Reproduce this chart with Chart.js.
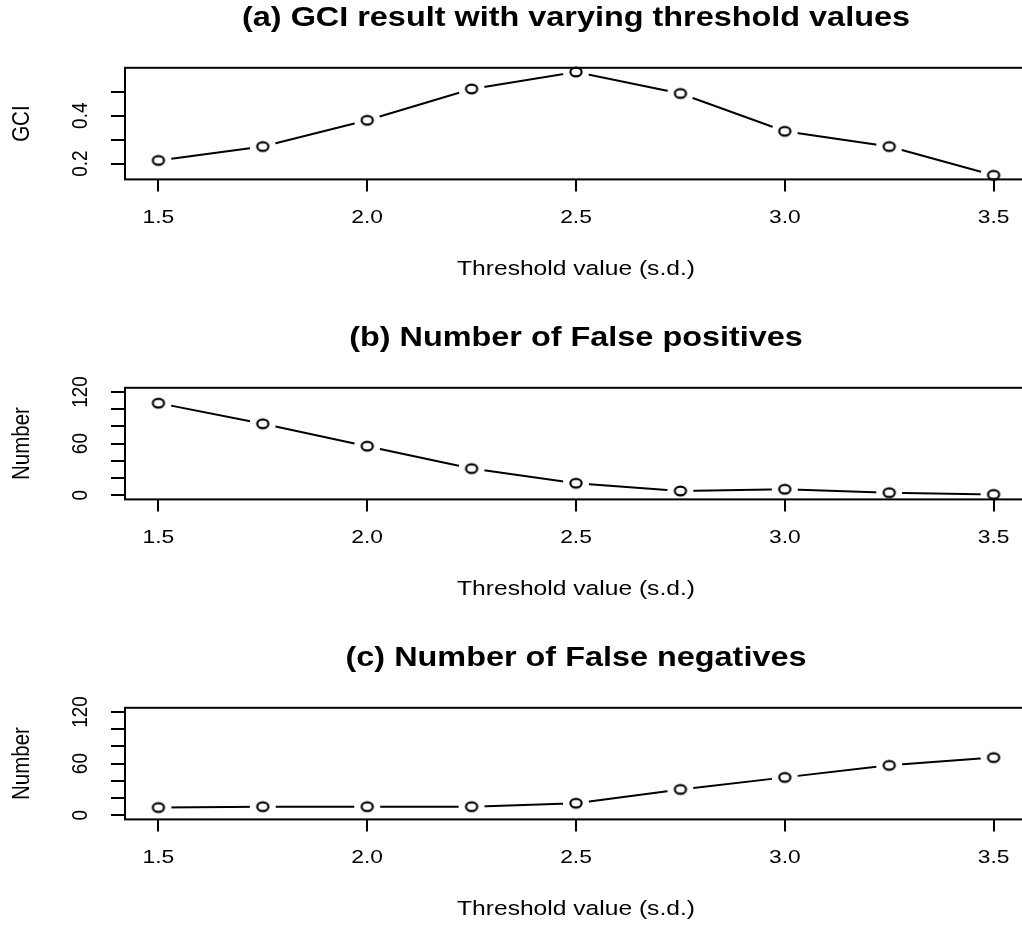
<!DOCTYPE html>
<html>
<head>
<meta charset="utf-8">
<script src="https://cdn.jsdelivr.net/npm/chart.js@4"></script>
<style>
    html, body { margin: 0; padding: 0; background: #fff; overflow: hidden; width: 1022px; height: 925px; position: relative; }
    canvas { position: absolute; left: 0; }
</style>
</head>
<body>
<canvas id="chartA" width="1030" height="320" style="top:0px"></canvas>
<canvas id="chartB" width="1030" height="320" style="top:320px"></canvas>
<canvas id="chartC" width="1030" height="320" style="top:640px"></canvas>
<script>
// Data
const thresholds = [1.5, 1.75, 2.0, 2.25, 2.5, 2.75, 3.0, 3.25, 3.5];
const gciValues = [0.213, 0.271, 0.381, 0.512, 0.583, 0.493, 0.335, 0.271, 0.151];
const falsePositives = [107, 83, 57, 31, 14, 5, 7, 3, 1];
const falseNegatives = [9, 10, 10, 10, 14, 30, 44, 58, 67];

// Axis ticks and limits
const xTicks = [1.5, 2.0, 2.5, 3.0, 3.5];
const xLimits = [1.42, 3.58];
const gciTicks = [0.2, 0.3, 0.4, 0.5];
const gciTickLabels = [0.2, 0.4];
const gciLimits = [0.1337, 0.6003];
const countTicks = [0, 20, 40, 60, 80, 100, 120];
const countTickLabels = [0, 60, 120];
const countLimits = [-4.8, 124.8];

const FONT = '"Liberation Sans", Arial, Helvetica, sans-serif';
const STRETCH = 1.2;   // the original figure is a bit wider than tall

// open ellipse used as point marker
function makeMarker() {
    const c = document.createElement('canvas');
    c.width = 16;
    c.height = 14;
    const g = c.getContext('2d');
    g.strokeStyle = '#000';
    g.lineWidth = 2.2;
    g.beginPath();
    g.ellipse(8, 7, 5.6, 4.4, 0, 0, Math.PI * 2);
    g.stroke();
    return c;
}
const marker = makeMarker();

function drawText(ctx, text, x, y, font, rotate) {
    ctx.save();
    ctx.translate(x, y);
    ctx.scale(STRETCH, 1);
    if (rotate) ctx.rotate(-Math.PI / 2);
    ctx.font = font;
    ctx.fillStyle = '#000';
    ctx.textAlign = 'center';
    ctx.textBaseline = 'middle';
    ctx.fillText(text, 0, 0);
    ctx.restore();
}

// box around the plot region, drawn over the points like R does
const boxPlugin = {
    id: 'plotBox',
    afterDatasetsDraw(chart) {
        const a = chart.chartArea;
        const ctx = chart.ctx;
        ctx.save();
        ctx.strokeStyle = '#000';
        ctx.lineWidth = 2;
        ctx.strokeRect(a.left, a.top, a.right - a.left, a.bottom - a.top);
        ctx.restore();
    }
};

// all the texts: title, tick labels, axis titles
const textPlugin = {
    id: 'rText',
    afterDraw(chart, args, opts) {
        const ctx = chart.ctx;
        const a = chart.chartArea;
        const xs = chart.scales.x;
        const ys = chart.scales.y;
        const cx = (a.left + a.right) / 2;

        drawText(ctx, opts.title, cx, 19, 'bold 27px ' + FONT, false);
        xTicks.forEach(v => {
            drawText(ctx, v.toFixed(1), xs.getPixelForValue(v), 218, '19px ' + FONT, false);
        });
        drawText(ctx, 'Threshold value (s.d.)', cx, 269, '20.5px ' + FONT, false);
        opts.yLabels.forEach(v => {
            drawText(ctx, v.toFixed(opts.digits), 81, ys.getPixelForValue(v), '19px ' + FONT, true);
        });
        drawText(ctx, opts.yTitle, 22, (a.top + a.bottom) / 2, '20.5px ' + FONT, true);
    }
};

function makePanel(canvasId, title, yTitle, values, yLimits, yTicks, yLabels, digits) {
    const points = thresholds.map((x, i) => ({ x: x, y: values[i] }));
    const ctx = document.getElementById(canvasId).getContext('2d');
    return new Chart(ctx, {
        type: 'line',
        data: {
            datasets: [
                {   // open markers
                    data: points,
                    showLine: false,
                    pointStyle: marker,
                    clip: false
                },
                {   // gap around each point (type = "b")
                    data: points,
                    showLine: false,
                    pointRadius: 13,
                    pointBorderWidth: 0,
                    pointBackgroundColor: '#fff'
                },
                {   // connecting line
                    data: points,
                    borderColor: '#000',
                    borderWidth: 2,
                    pointRadius: 0,
                    tension: 0
                }
            ]
        },
        options: {
            responsive: false,
            animation: false,
            events: [],
            layout: { autoPadding: false, padding: { left: 0, right: 3, top: 67.8, bottom: 128.6 } },
            plugins: {
                legend: { display: false },
                tooltip: { enabled: false },
                title: { display: false },
                rText: { title: title, yTitle: yTitle, yLabels: yLabels, digits: digits }
            },
            scales: {
                x: {
                    type: 'linear',
                    min: xLimits[0],
                    max: xLimits[1],
                    afterBuildTicks: s => { s.ticks = xTicks.map(v => ({ value: v })); },
                    afterFit: s => { s.height = 12; s.paddingLeft = 0; s.paddingRight = 0; },
                    grid: { drawOnChartArea: false, drawTicks: true, tickLength: 12, color: '#000', lineWidth: 2 },
                    border: { display: false },
                    ticks: { display: false }
                },
                y: {
                    type: 'linear',
                    min: yLimits[0],
                    max: yLimits[1],
                    afterBuildTicks: s => { s.ticks = yTicks.map(v => ({ value: v })); },
                    afterFit: s => { s.width = 125; s.paddingTop = 0; s.paddingBottom = 0; },
                    grid: { drawOnChartArea: false, drawTicks: true, tickLength: 14, color: '#000', lineWidth: 2 },
                    border: { display: false },
                    ticks: { display: false }
                }
            }
        },
        plugins: [boxPlugin, textPlugin]
    });
}

makePanel('chartA', '(a) GCI result with varying threshold values', 'GCI',
    gciValues, gciLimits, gciTicks, gciTickLabels, 1);
makePanel('chartB', '(b) Number of False positives', 'Number',
    falsePositives, countLimits, countTicks, countTickLabels, 0);
makePanel('chartC', '(c) Number of False negatives', 'Number',
    falseNegatives, countLimits, countTicks, countTickLabels, 0);
</script>
</body>
</html>
